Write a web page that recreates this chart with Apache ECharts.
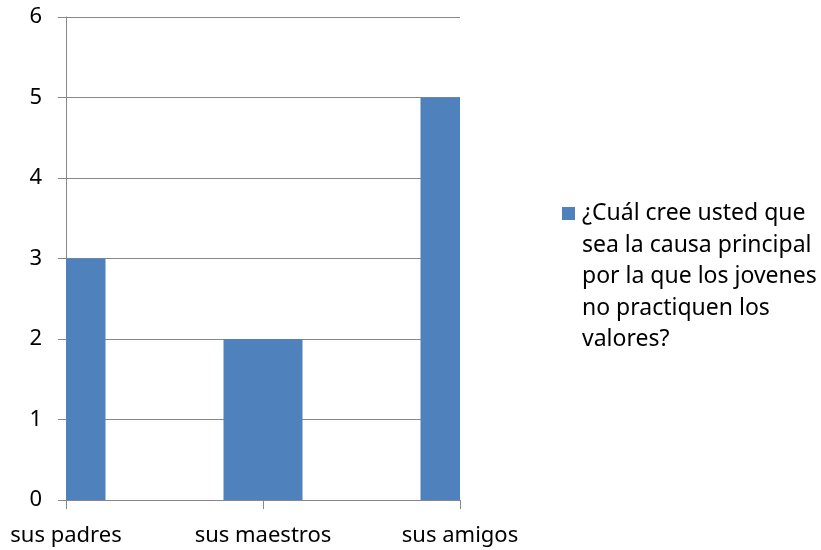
<!DOCTYPE html>
<html>
<head>
<meta charset="utf-8">
<script src="https://cdn.jsdelivr.net/npm/echarts@6/dist/echarts.min.js"></script>
<style>
  html, body { margin: 0; padding: 0; background: #fff; }
  #chart { width: 821px; height: 550px; }
</style>
</head>
<body>
<div id="chart"></div>
<script>
let categories = ["sus padres", "sus maestros", "sus amigos"];
let values = [3, 2, 5];
let seriesName = "¿Cuál cree usted que\nsea la causa principal\npor la que los jovenes\nno practiquen los\nvalores?";
let yTicks = [0, 1, 2, 3, 4, 5, 6];

let chart = {
    init:()=>{
        let myChart = echarts.init(document.getElementById('chart'));
        let font = "'Noto Sans', 'Open Sans', sans-serif";
        let grey = '#888888';
        let barWidth = 79;

        let option = {
            animation: false,
            grid: { left: 66, right: 361, top: 17, bottom: 50 },
            legend: [
                {   // square only
                    left: 562, top: 207, padding: 0,
                    icon: 'rect', itemWidth: 13, itemHeight: 13,
                    data: [seriesName],
                    formatter: ()=>'',
                    selectedMode: false
                },
                {   // text only
                    left: 577, top: 198, padding: 0,
                    icon: 'none', itemWidth: 0, itemHeight: 13,
                    data: [seriesName],
                    selectedMode: false,
                    textStyle: { fontFamily: font, fontSize: 23, color: '#000', lineHeight: 31.5 }
                }
            ],
            xAxis: {
                type: 'category',
                data: categories,
                boundaryGap: false,
                axisLine: { lineStyle: { color: grey, width: 1 } },
                axisTick: { show: true, length: 9, lineStyle: { color: grey } },
                axisLabel: { fontFamily: font, fontSize: 22, color: '#000', margin: 25 },
                splitLine: { show: false }
            },
            yAxis: {
                type: 'value',
                min: yTicks[0], max: yTicks[yTicks.length - 1], interval: 1,
                axisLine: { show: true, lineStyle: { color: grey, width: 1 } },
                axisTick: { show: true, length: 8, lineStyle: { color: grey } },
                axisLabel: { fontFamily: font, fontSize: 22, color: '#000', margin: 24 },
                splitLine: { show: true, lineStyle: { color: grey, width: 1 } }
            },
            series: [
                {
                    name: seriesName,
                    type: 'custom',
                    data: values.map((v, i)=>[categories[i], v]),
                    encode: { x: 0, y: 1 },
                    itemStyle: { color: '#4F81BD' },
                    renderItem: (params, api)=>{
                        // bar centred on the tick, cut to the plot area like the original
                        let top = api.coord([api.value(0), api.value(1)]);
                        let base = api.coord([api.value(0), 0]);
                        let cs = params.coordSys;
                        let rect = echarts.graphic.clipRectByRect(
                            { x: top[0] - barWidth / 2, y: top[1], width: barWidth, height: base[1] - top[1] },
                            { x: cs.x, y: cs.y, width: cs.width, height: cs.height }
                        );
                        return rect && { type: 'rect', shape: rect, style: api.style() };
                    }
                }
            ]
        };
        myChart.setOption(option);
    }//init-------end
}

chart.init();
</script>
</body>
</html>
